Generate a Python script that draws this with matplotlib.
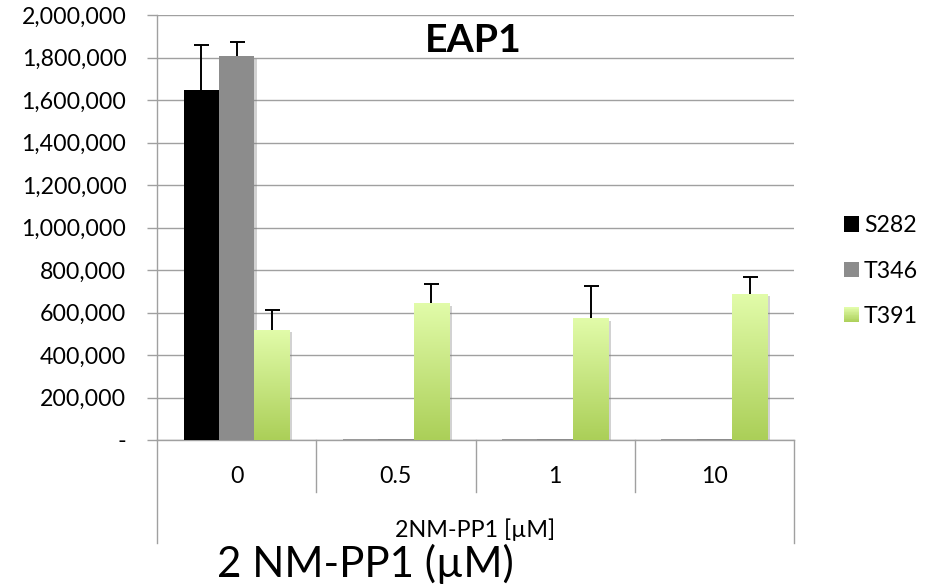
import numpy as np
import matplotlib
matplotlib.use("Agg")
import matplotlib.pyplot as plt
import matplotlib.patheffects as pe
from matplotlib.patches import Patch, Rectangle
from matplotlib.colors import LinearSegmentedColormap
from matplotlib.ticker import FuncFormatter
from matplotlib.legend_handler import HandlerBase

# ---- data ----
categories = ["0", "0.5", "1", "10"]
series_names = ["S282", "T346", "T391"]
s282 = [1646000, 4000, 4000, 4000]
s282_err = [212000, 0, 0, 0]
t346 = [1807000, 4000, 4000, 4000]
t346_err = [67000, 0, 0, 0]
t391 = [519000, 646000, 575000, 689000]
t391_err = [93000, 88000, 148000, 77000]
y_ticks = [0, 200000, 400000, 600000, 800000, 1000000, 1200000,
           1400000, 1600000, 1800000, 2000000]
title = "EAP1"
x_label = "2NM-PP1 [\u00b5M]"
big_label = "2 NM-PP1 (\u00b5M)"

plt.rcParams['font.family'] = ['Lato', 'DejaVu Sans']

W, H = 938, 587
fig = plt.figure(figsize=(W / 100, H / 100), dpi=100)
L, R, T, B = 157, 794, 15, 440
ax = fig.add_axes([L / W, 1 - B / H, (R - L) / W, (B - T) / H])
renderer = fig.canvas.get_renderer()

def fit_width(txt, target_px):
    bb = txt.get_window_extent(renderer=renderer)
    txt.set_fontsize(txt.get_fontsize() * target_px / bb.width)

grid_c = "#a0a0a0"
light_g, dark_g = "#e2fcaa", "#abcf58"
x = np.arange(len(categories))
bw = 1 / 4.5
shadow = [pe.SimplePatchShadow(offset=(2, -2), shadow_rgbFace="#808080", alpha=0.35), pe.Normal()]

b1 = ax.bar(x - bw, s282, bw, color="#000000", zorder=3, path_effects=shadow)
b2 = ax.bar(x, t346, bw, color="#8c8c8c", zorder=3, path_effects=shadow)
b3 = ax.bar(x + bw, t391, bw, color="#c8e68a", zorder=3, path_effects=shadow)
for p in list(b1)[1:]:
    p.set_facecolor("#9a9a9a")

green_cmap = LinearSegmentedColormap.from_list("g", [dark_g, light_g])
grad = np.linspace(0, 1, 256).reshape(-1, 1)
for p in b3:
    x0, w, h = p.get_x(), p.get_width(), p.get_height()
    im = ax.imshow(grad, cmap=green_cmap, origin="lower", aspect="auto",
                   extent=[x0, x0 + w, 0, h], zorder=3.5)
    im.set_clip_path(p)

def draw_err(xs, ys, errs):
    xs = np.asarray(xs); ys = np.asarray(ys); errs = np.asarray(errs)
    m = errs > 0
    eb = ax.errorbar(xs[m], ys[m], yerr=[np.zeros(m.sum()), errs[m]], fmt="none",
                     ecolor="black", elinewidth=1.4, capsize=5.4, capthick=1.4, zorder=5)
    caps = eb[1]
    if len(caps) == 2:
        caps[0].set_visible(False)

draw_err(x - bw, s282, s282_err)
draw_err(x, t346, t346_err)
draw_err(x + bw, t391, t391_err)

ax.set_xlim(-0.5, len(categories) - 0.5)
ax.set_ylim(0, 2000000)
ax.set_yticks(y_ticks)
ax.yaxis.set_major_formatter(FuncFormatter(lambda v, p: "-" if v == 0 else f"{int(v):,}"))
ax.grid(axis="y", color=grid_c, linewidth=1.0, zorder=0)
ax.set_axisbelow(True)
for s in ["top", "right"]:
    ax.spines[s].set_visible(False)
for s in ["left", "bottom"]:
    ax.spines[s].set_color(grid_c)
    ax.spines[s].set_linewidth(1.0)
ax.tick_params(axis="y", direction="out", length=7, width=1.0, color=grid_c,
               pad=15, labelsize=16.7, labelcolor="black")
ax.set_xticks(x)
ax.set_xticklabels(categories)
ax.tick_params(axis="x", length=0, pad=19, labelsize=16.7, labelcolor="black")

# multi-level category separators
ah = B - T
xt = ax.get_xaxis_transform()
n = len(categories)
for i in range(n + 1):
    xb = i - 0.5
    depth = 103 / ah if i in (0, n) else 52 / ah
    ax.plot([xb, xb], [0, -depth], transform=xt, color=grid_c, lw=1.0, clip_on=False)

ax.set_xlabel(x_label, fontsize=14)
ax.xaxis.set_label_coords((475 - L) / (R - L), (B - 537) / ah)
ax.xaxis.label.set_va("baseline")
fit_width(ax.xaxis.label, 160)

t = ax.text((473.5 - L) / (R - L), (B - 51.5) / ah, title, transform=ax.transAxes,
            ha="center", va="baseline", fontsize=26, fontweight="bold")
fit_width(t, 97)

bt = fig.text(217 / W, 1 - 577 / H, big_label, ha="left", va="baseline", fontsize=30)
fit_width(bt, 296)

class HandlerGradient(HandlerBase):
    def create_artists(self, legend, orig_handle, xdescent, ydescent, width, height, fontsize, trans):
        arts = []
        nstep = 20
        cm = LinearSegmentedColormap.from_list("lg", [dark_g, light_g])
        for k in range(nstep):
            r = Rectangle((-xdescent, -ydescent + height * k / nstep), width, height / nstep + 0.3,
                          facecolor=cm(k / (nstep - 1)), edgecolor="none", transform=trans)
            arts.append(r)
        return arts

handles = [Patch(facecolor="#000000"), Patch(facecolor="#8c8c8c"), Patch(facecolor="#c8e68a")]
leg = fig.legend(handles, series_names, loc="center left", bbox_to_anchor=(844 / W, 1 - 271 / H),
                 frameon=False, fontsize=16.7, handlelength=0.65, handleheight=0.65,
                 handletextpad=0.2, labelspacing=1.05, borderpad=0, borderaxespad=0,
                 handler_map={handles[2]: HandlerGradient()})

fig.savefig("out.png", dpi=100)
